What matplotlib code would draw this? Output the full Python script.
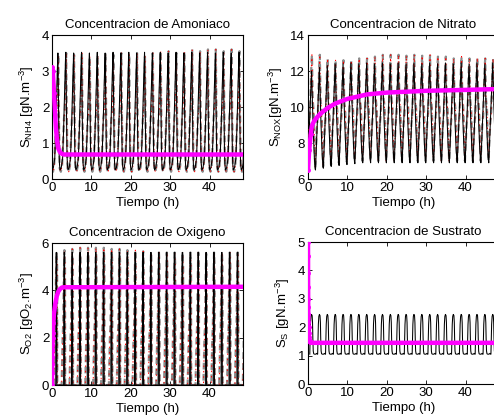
import numpy as np
import matplotlib
matplotlib.use("Agg")
import matplotlib.pyplot as plt

plt.rcParams['font.family'] = ['Liberation Sans', 'DejaVu Sans']
plt.rcParams['mathtext.default'] = 'regular'
plt.rcParams['font.size'] = 9

# ---------------- data ----------------
cycle_start = [0.0, 2.0, 4.0, 6.0, 8.0, 10.0, 12.0, 14.0, 16.0, 18.0, 20.0,
               22.0, 24.0, 26.0, 28.0, 30.0, 32.0, 34.0, 36.0, 38.0, 40.0,
               42.0, 44.0, 46.0, 48.0]

# one-cycle templates (time offset in h, fraction between trough and peak)
nh4_shape_dt = [0.0, 0.15, 0.45, 0.8, 1.05, 1.25, 1.45, 1.6, 1.75, 1.9]
nh4_shape_fr = [0.05, 0.0, 0.02, 0.1, 0.35, 0.6, 0.85, 1.0, 0.55, 0.15]
nh4_peak = [3.5, 3.52, 3.5, 3.52, 3.5, 3.52, 3.5, 3.52, 3.5, 3.52, 3.5, 3.52,
            3.5, 3.52, 3.5, 3.52, 3.5, 3.52, 3.5, 3.52, 3.5, 3.52, 3.5, 3.52, 3.5]
nh4_trough = [0.25] * 25
nh4_mod_peak = [3.45, 3.5, 3.45, 3.5, 3.4, 3.45, 3.5, 3.45, 3.5, 3.45, 3.5, 3.4,
                3.5, 3.55, 3.55, 3.5, 3.55, 3.6, 3.55, 3.6, 3.6, 3.55, 3.6, 3.55, 3.5]
nh4_mod_trough = [0.2] * 25
nh4_mod_shape_dt = [0.0, 0.3, 0.6, 0.9, 1.1, 1.3, 1.5, 1.65, 1.8, 1.95]
nh4_mod_shape_fr = [0.03, 0.0, 0.05, 0.3, 0.45, 0.5, 0.75, 1.0, 0.5, 0.1]
nh4_avg_t = [0.0, 0.2, 0.5, 0.8, 1.0, 1.3, 1.6, 2.0, 2.5, 3.0, 48.5]
nh4_avg_y = [3.1, 3.0, 2.4, 1.8, 1.4, 1.05, 0.85, 0.75, 0.7, 0.68, 0.68]

no3_shape_dt = [0.0, 0.3, 0.6, 0.85, 1.0, 1.15, 1.4, 1.7, 1.9]
no3_shape_fr = [0.0, 0.3, 0.6, 0.85, 1.0, 0.8, 0.45, 0.15, 0.03]
no3_peak = [12.0, 12.2, 12.3, 12.4, 12.4, 12.45, 12.4, 12.45, 12.4, 12.45, 12.4,
            12.45, 12.4, 12.45, 12.4, 12.45, 12.4, 12.45, 12.4, 12.45, 12.4,
            12.45, 12.4, 12.45, 12.4]
no3_trough = [6.4, 6.5, 6.6, 6.7, 6.75, 6.8, 6.85, 6.9, 6.9, 6.9, 6.9, 6.9, 6.9,
              6.9, 6.9, 6.9, 6.9, 6.9, 6.9, 6.9, 6.9, 6.9, 6.9, 6.9, 6.9]
no3_mod_peak = [12.9, 12.9, 12.7, 12.6, 12.6, 12.6, 12.7, 12.7, 12.8, 12.9, 12.9,
                12.9, 12.85, 12.9, 12.85, 12.9, 12.8, 12.8, 12.7, 12.8, 12.7,
                12.75, 12.7, 12.7, 12.6]
no3_mod_trough = [6.6, 6.7, 6.8, 6.9, 6.95, 7.0, 7.0, 7.0, 7.0, 7.0, 7.0, 7.0,
                  7.0, 7.0, 7.0, 7.0, 7.0, 7.0, 7.0, 7.0, 7.0, 7.0, 7.0, 7.0, 7.0]
no3_mod_shape_dt = [0.0, 0.35, 0.6, 0.8, 0.95, 1.1, 1.3, 1.55, 1.8, 1.95]
no3_mod_shape_fr = [0.05, 0.35, 0.45, 0.7, 0.9, 1.0, 0.6, 0.5, 0.15, 0.0]
no3_avg_t = [0.0, 0.3, 0.7, 1.0, 1.5, 2.0, 3.0, 5.0, 7.0, 10.0, 15.0, 20.0,
             25.0, 30.0, 40.0, 48.5]
no3_avg_y = [6.5, 7.6, 8.5, 8.95, 9.2, 9.35, 9.6, 9.95, 10.2, 10.45, 10.7,
             10.8, 10.85, 10.9, 10.95, 11.0]

o2_shape_dt = [0.0, 0.45, 0.5, 0.55, 0.7, 0.75, 1.9]
o2_shape_fr = [0.0, 0.0, 0.85, 1.0, 1.0, 0.0, 0.0]
o2_peak = [5.6] * 25
o2_trough = [0.0] * 25
o2_mod_shape_dt = [0.0, 0.1, 0.35, 0.5, 0.65, 0.8, 0.95, 1.0, 1.9]
o2_mod_shape_fr = [0.0, 0.0, 0.35, 0.45, 0.8, 1.0, 0.9, 0.0, 0.0]
o2_mod_peak = [5.6, 5.7, 5.75, 5.8, 5.8, 5.8, 5.8, 5.75, 5.75, 5.7, 5.7, 5.65,
               5.6, 5.6, 5.6, 5.6, 5.6, 5.6, 5.6, 5.55, 5.6, 5.6, 5.6, 5.6, 5.6]
o2_mod_trough = [0.0] * 25
o2_avg_t = [0.0, 0.02, 0.04, 0.06, 0.09, 0.12, 0.16, 0.2, 0.3, 0.5, 0.8, 1.2,
            1.6, 2.0, 2.5, 3.0, 48.5]
o2_avg_y = [0.0, 0.5, 0.9, 1.2, 1.5, 1.7, 2.0, 2.2, 2.6, 3.0, 3.4, 3.75,
            3.95, 4.05, 4.12, 4.13, 4.15]

ss_shape_dt = [0.0, 0.08, 0.18, 0.3, 0.45, 0.6, 0.7, 0.78, 0.88, 1.0, 1.2,
               1.5, 1.75, 1.9]
ss_shape_fr = [0.0, 0.35, 0.75, 0.95, 1.0, 0.97, 0.8, 0.4, 0.08, 0.01, 0.0,
               0.0, 0.02, 0.0]
ss_peak = [2.45] * 25
ss_trough = [1.05] * 25
ss_avg_t = [0.0, 0.01, 0.02, 0.03, 0.045, 0.06, 0.08, 0.1, 0.13, 0.17, 0.22,
            0.3, 0.4, 0.6, 1.0, 48.5]
ss_avg_y = [5.0, 4.5, 3.9, 3.4, 3.0, 2.7, 2.45, 2.2, 2.0, 1.8, 1.65, 1.55,
            1.5, 1.47, 1.45, 1.45]


def build(starts, dt, fr, peaks, troughs, offset=0.0):
    xs, ys = [], []
    for s, p, q in zip(starts, peaks, troughs):
        for d, f in zip(dt, fr):
            xs.append(s + offset + d)
            ys.append(q + f * (p - q))
    return np.array(xs), np.array(ys)


W, H = 494, 419
fig = plt.figure(figsize=(W / 100, H / 100), dpi=100)


def make_ax(x0, y0, x1, y1):
    return fig.add_axes([x0 / W, 1 - y1 / H, (x1 - x0) / W, (y1 - y0) / H])


ax1 = make_ax(52, 35, 243, 179)
ax2 = make_ax(308, 35, 499, 179)
ax3 = make_ax(52, 243, 243, 385)
ax4 = make_ax(308, 242, 499, 384)

GRAY = '#8c8c8c'
MAG = '#ff00ff'


def draw_osc(ax, black, model=None):
    if model is not None:
        mx, my = model
        ax.plot(mx, my, color=GRAY, lw=1.6, dashes=(3, 2), zorder=2)
        ax.plot(mx, my, color='#ff0000', lw=0.7, dashes=(1.5, 4), zorder=3)
    bx, by = black
    ax.plot(bx, by, color='black', lw=0.75, zorder=4)


def draw_avg(ax, t, y, nmark):
    ax.plot(t, y, color=MAG, lw=3.2, zorder=5, solid_capstyle='butt')
    ax.plot(t[:nmark], y[:nmark], 'o', color=MAG, ms=2.5, zorder=6)


# Ammonia
draw_osc(ax1,
         build(cycle_start, nh4_shape_dt, nh4_shape_fr, nh4_peak, nh4_trough, -0.1),
         build(cycle_start, nh4_mod_shape_dt, nh4_mod_shape_fr, nh4_mod_peak,
               nh4_mod_trough, -0.05))
draw_avg(ax1, nh4_avg_t, nh4_avg_y, 3)
ax1.set_ylim(0, 4)
ax1.set_yticks([0, 1, 2, 3, 4])
ax1.set_title('Concentracion de Amoniaco', fontsize=9.5, pad=5)
ax1.set_ylabel(r'S$_{NH4}$ [gN.m$^{-3}$]', fontsize=9.5)

# Nitrate
draw_osc(ax2,
         build(cycle_start, no3_shape_dt, no3_shape_fr, no3_peak, no3_trough, -0.1),
         build(cycle_start, no3_mod_shape_dt, no3_mod_shape_fr, no3_mod_peak,
               no3_mod_trough, -0.1))
draw_avg(ax2, no3_avg_t, no3_avg_y, 3)
ax2.set_ylim(6, 14)
ax2.set_yticks([6, 8, 10, 12, 14])
ax2.set_title('Concentracion de Nitrato', fontsize=9.5, pad=5)
ax2.set_ylabel(r'S$_{NOX}$[gN.m$^{-3}$]', fontsize=9.5)

# Oxygen
draw_osc(ax3,
         build(cycle_start, o2_shape_dt, o2_shape_fr, o2_peak, o2_trough, 0.5),
         build(cycle_start, o2_mod_shape_dt, o2_mod_shape_fr, o2_mod_peak,
               o2_mod_trough, 0.35))
draw_avg(ax3, o2_avg_t, o2_avg_y, 9)
ax3.set_ylim(0, 6)
ax3.set_yticks([0, 2, 4, 6])
ax3.set_title('Concentracion de Oxigeno', fontsize=9.5, pad=5)
ax3.set_ylabel(r'S$_{O2}$ [gO$_2$.m$^{-3}$]', fontsize=9.5)

# Substrate
draw_osc(ax4, build(cycle_start, ss_shape_dt, ss_shape_fr, ss_peak, ss_trough, 0.45))
draw_avg(ax4, ss_avg_t, ss_avg_y, 14)
ax4.set_ylim(0, 5)
ax4.set_yticks([0, 1, 2, 3, 4, 5])
ax4.set_title('Concentracion de Sustrato', fontsize=9.5, pad=5)
ax4.set_ylabel(r'S$_S$ [gN.m$^{-3}$]', fontsize=9.5)

for ax in (ax1, ax2, ax3, ax4):
    ax.set_xlim(0, 48.5)
    ax.set_xticks([0, 10, 20, 30, 40])
    ax.set_xlabel('Tiempo (h)', fontsize=9.5, labelpad=2)
    ax.tick_params(direction='in', top=True, right=True, length=3,
                   width=0.6, labelsize=9.5, pad=2)
    for sp in ax.spines.values():
        sp.set_linewidth(0.8)

fig.savefig('out.png', dpi=100)
